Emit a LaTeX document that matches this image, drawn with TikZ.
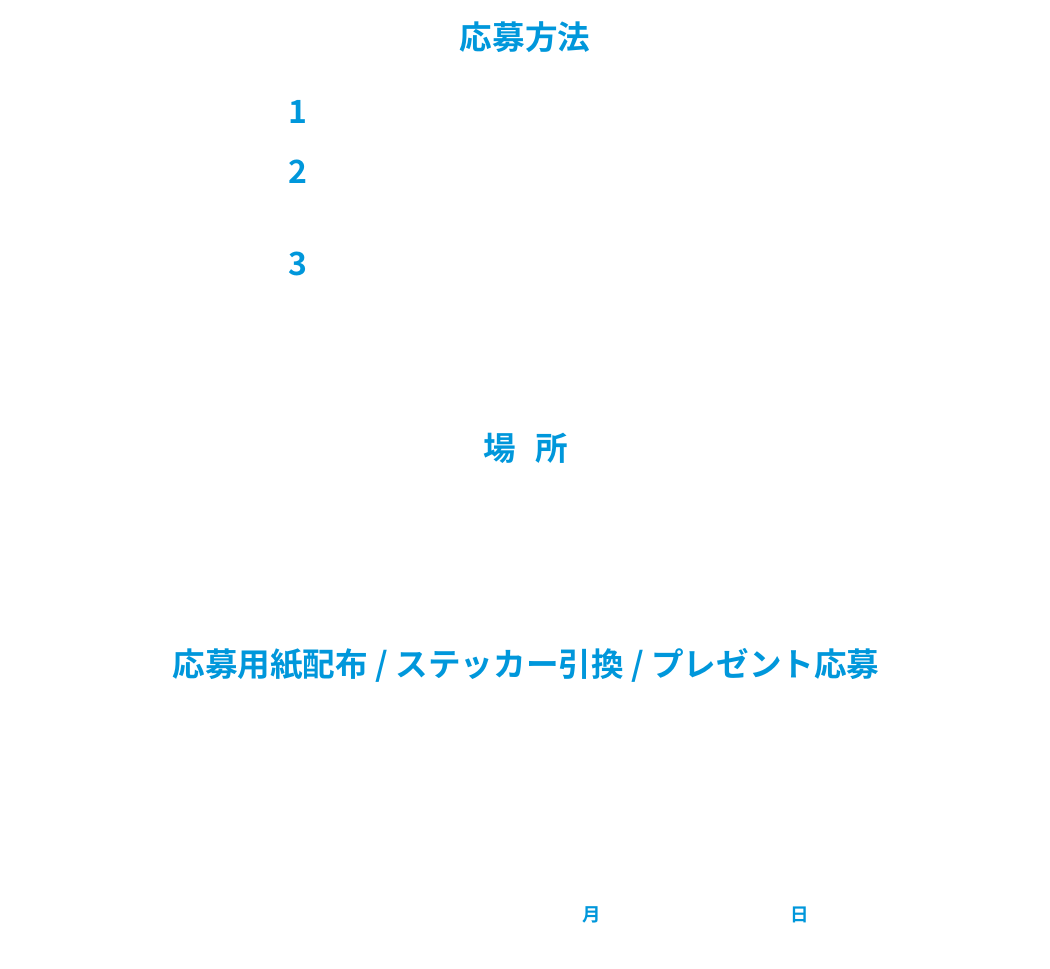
\documentclass[tikz,border=0pt]{standalone}
\usepackage{fontspec}
\newfontfamily\jpfont{Noto Sans CJK JP Bold}
\definecolor{kblue}{HTML}{0097DB}

\begin{document}
\begin{tikzpicture}[x=1pt,y=-1pt]
                        \tikzstyle{every node}=[text=kblue,inner sep=0pt,font=\jpfont]
                        \tikzstyle{head}=[font=\jpfont\fontsize{32.6}{32.6}\selectfont]
                        \tikzstyle{num}=[font=\jpfont\fontsize{32}{32}\selectfont]
                        \tikzstyle{small}=[font=\jpfont\fontsize{18.5}{18.5}\selectfont]
                        \useasboundingbox (0,0) rectangle (1050,969);
                        \node[head] (title) at (525,37) {応募方法};
                        \node[num] (n1) at (298,112) {1};
                        \node[num] (n2) at (298,172) {2};
                        \node[num] (n3) at (298,264) {3};
                        \node[head] (place) at (526,448) {場\hspace{0.6em}所};
                        \node[head] (event) at (526,665) {応募用紙配布 / ステッカー引換 / プレゼント応募};
                        \node[small] (month) at (592,915) {月};
                        \node[small] (day) at (800,915) {日};
                    \end{tikzpicture}
\end{document}
